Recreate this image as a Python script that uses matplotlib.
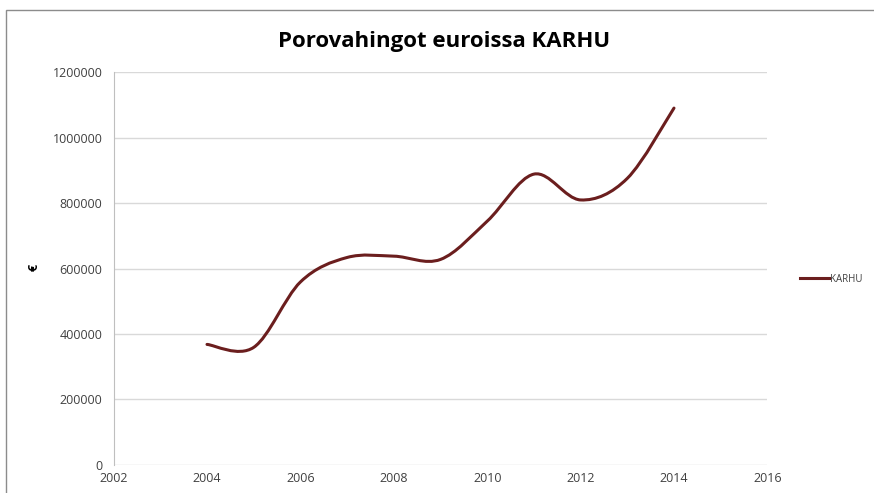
import matplotlib.pyplot as plt
from matplotlib.path import Path
from matplotlib.patches import PathPatch, Rectangle
from matplotlib.lines import Line2D

# Values (euros per year)
years = [2004, 2005, 2006, 2007, 2008, 2009, 2010, 2011, 2012, 2013, 2014]
damages = [368000, 359000, 559000, 634000, 638000, 628000, 745000, 889000, 810000, 876000, 1091000]

line_color = "#6B1E1E"
grid_color = "#D9D9D9"
text_color = "#404040"

plt.rcParams["font.family"] = ["Open Sans", "DejaVu Sans"]

fig = plt.figure(figsize=(8.74, 4.93), dpi=100)
ax = fig.add_axes([0.130, 0.0574, 0.748, 0.7956])

# Excel-style smoothed line: cubic Bezier segments through the points
verts = [(years[0], damages[0])]
codes = [Path.MOVETO]
n = len(years)
for i in range(n - 1):
    p0 = (years[max(i - 1, 0)], damages[max(i - 1, 0)])
    p1 = (years[i], damages[i])
    p2 = (years[i + 1], damages[i + 1])
    p3 = (years[min(i + 2, n - 1)], damages[min(i + 2, n - 1)])
    c1 = (p1[0] + (p2[0] - p0[0]) / 6, p1[1] + (p2[1] - p0[1]) / 6)
    c2 = (p2[0] - (p3[0] - p1[0]) / 6, p2[1] - (p3[1] - p1[1]) / 6)
    verts += [c1, c2, p2]
    codes += [Path.CURVE4] * 3
ax.add_patch(PathPatch(Path(verts, codes), facecolor="none", edgecolor=line_color,
                       lw=2.2, capstyle="round", joinstyle="round", zorder=3))

ax.set_xlim(2002, 2016)
ax.set_ylim(0, 1200000)
ax.set_xticks(range(2002, 2017, 2))
ax.set_yticks(range(0, 1200001, 200000))
ax.set_yticklabels([str(v) for v in range(0, 1200001, 200000)])
ax.grid(axis="y", color=grid_color, lw=1)
ax.set_axisbelow(True)
for side in ["top", "right", "bottom"]:
    ax.spines[side].set_visible(False)
ax.spines["left"].set_color("#BFBFBF")
ax.tick_params(length=0, labelsize=9, colors=text_color, pad=8)
ax.tick_params(axis="x", pad=5)

ax.set_ylabel("€", fontsize=9, fontweight="bold", color="black")
ax.yaxis.set_label_coords(-0.112, 0.503)

fig.text(0.508, 0.915, "Porovahingot euroissa KARHU", ha="center", va="center",
         fontsize=16, fontweight="bold", color="black")

handle = Line2D([], [], color=line_color, lw=2.2)
fig.legend([handle], ["KARHU"], loc="center left", bbox_to_anchor=(0.905, 0.434),
           frameon=False, fontsize=7, handlelength=3.0, handletextpad=0.1,
           labelcolor=text_color)

# outer chart border (partly cropped in the reference)
fig.patches.append(Rectangle((6 / 874, -0.1), 1.2, 1 - 10 / 493 + 0.1,
                             transform=fig.transFigure, fill=False,
                             edgecolor="#8C8C8C", lw=1))

fig.savefig("out.png", dpi=100)
